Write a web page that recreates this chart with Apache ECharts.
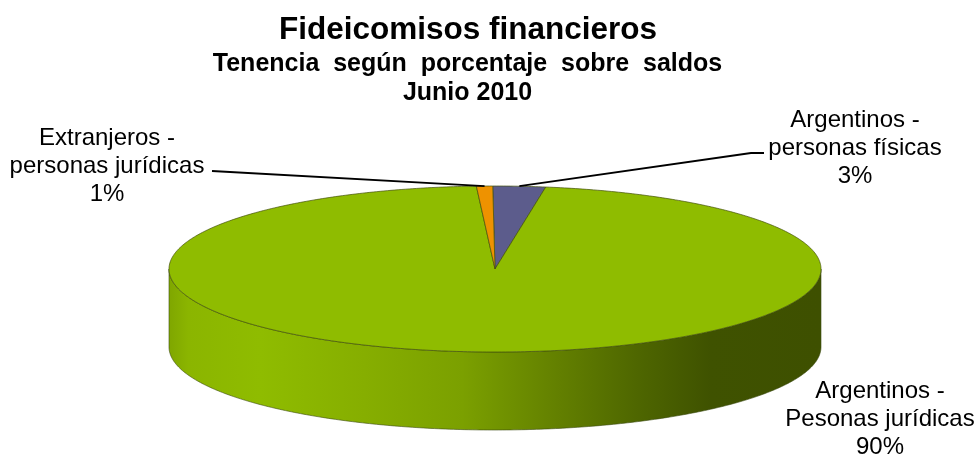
<!DOCTYPE html>
<html><head><meta charset="utf-8">
<style>html,body{margin:0;padding:0;background:#fff}#c{width:978px;height:455px}</style>
<script src="https://cdn.jsdelivr.net/npm/echarts@6/dist/echarts.min.js"></script>
</head><body><div id="c"></div>
<script>
var categories = ['Argentinos -\nPesonas jurídicas', 'Extranjeros -\npersonas jurídicas', 'Argentinos -\npersonas físicas'];
var percentLabels = ['90%', '1%', '3%'];
// slice shares as drawn (the printed labels do not add up to 100)
var sliceShares = [96.6, 0.8, 2.6];
var sliceColors = ['#8fbc00', '#ee9200', '#5c5c8c'];
var titleLines = ['Fideicomisos financieros', 'Tenencia  según  porcentaje  sobre  saldos', 'Junio 2010'];

var CX = 495, CY = 269, RX = 326, RY = 83, DEPTH = 78, START = -0.4;
var total = sliceShares.reduce(function (a, b) { return a + b; }, 0);
// slices run clockwise from just left of the top: blue, then green, then orange
var order = [2, 0, 1], spans = {}, acc = START;
order.forEach(function (i) {
  var sweep = sliceShares[i] / total * 360;
  spans[i] = [acc, acc + sweep];
  acc += sweep;
});
function pt(deg, dy) {
  var r = deg * Math.PI / 180;
  return [CX + RX * Math.sin(r), CY - RY * Math.cos(r) + (dy || 0)];
}
function arc(a, b, dy) {
  var out = [], n = Math.max(4, Math.ceil((b - a) * 1.5));
  for (var k = 0; k <= n; k++) out.push(pt(a + (b - a) * k / n, dy));
  return out;
}
var labelBoxes = {
  0: { x: 880, y: 419 },
  1: { x: 107, y: 166, anchor: [212, 171], via: null },
  2: { x: 855, y: 148, anchor: [764, 153], via: [751, 153] }
};
var sideGradient = {
  type: 'linear', x: 0, y: 0, x2: 1, y2: 0,
  colorStops: [
    { offset: 0, color: '#7fa600' }, { offset: 0.03, color: '#8bb500' },
    { offset: 0.14, color: '#8fbc00' }, { offset: 0.3, color: '#86ae00' },
    { offset: 0.45, color: '#7ba000' }, { offset: 0.6, color: '#627f00' },
    { offset: 0.72, color: '#4e6600' }, { offset: 0.83, color: '#3f5200' },
    { offset: 1, color: '#3e5000' }
  ]
};
function renderSlice(params, api) {
  var i = api.value(0), s = spans[i], children = [];
  // visible wall: the part of the rim facing the viewer (90deg..270deg)
  var a = Math.max(s[0], 90), b = Math.min(s[1], 270);
  if (b > a) {
    children.push({
      type: 'polygon',
      shape: { points: arc(a, b, 0).concat(arc(a, b, DEPTH).reverse()) },
      style: { fill: sideGradient, stroke: '#3a4a10', lineWidth: 0.6 }
    });
  }
  children.push({
    type: 'polygon',
    shape: { points: [[CX, CY]].concat(arc(s[0], s[1], 0)) },
    style: { fill: sliceColors[i], stroke: '#44500c', lineWidth: 0.7 }
  });
  var box = labelBoxes[i];
  if (box.anchor) {
    var start = pt((s[0] + s[1]) / 2, 0);
    var pts = [start];
    if (box.via) pts.push(box.via);
    pts.push(box.anchor);
    children.push({
      type: 'polyline', z2: 10,
      shape: { points: pts },
      style: { stroke: '#000', lineWidth: 1.8, fill: null }
    });
  }
  children.push({
    type: 'text', z2: 20,
    style: {
      x: box.x, y: box.y,
      text: categories[i] + '\n' + percentLabels[i],
      fill: '#000', align: 'center', verticalAlign: 'middle',
      font: '24px "Liberation Sans"', lineHeight: 28
    }
  });
  return { type: 'group', children: children };
}
var chart = echarts.init(document.getElementById('c'), null, { renderer: 'canvas' });
chart.setOption({
  animation: false,
  backgroundColor: '#fff',
  title: [
    { text: titleLines[0], left: 463, top: 9, textAlign: 'center', textStyle: { fontFamily: 'Liberation Sans', fontWeight: 'bold', fontSize: 31.5, color: '#000' } },
    { text: titleLines[1], left: 462.5, top: 47, textAlign: 'center', textStyle: { fontFamily: 'Liberation Sans', fontWeight: 'bold', fontSize: 25, color: '#000' } },
    { text: titleLines[2], left: 462.5, top: 76, textAlign: 'center', textStyle: { fontFamily: 'Liberation Sans', fontWeight: 'bold', fontSize: 25, color: '#000' } }
  ],
  xAxis: { show: false, min: 0, max: 1 },
  yAxis: { show: false, min: 0, max: 1 },
  grid: { left: 0, right: 0, top: 0, bottom: 0 },
  series: [{
    type: 'custom',
    coordinateSystem: 'none',
    renderItem: renderSlice,
    silent: true,
    data: order.map(function (i) { return [i, sliceShares[i]]; })
  }]
});
</script></body></html>
